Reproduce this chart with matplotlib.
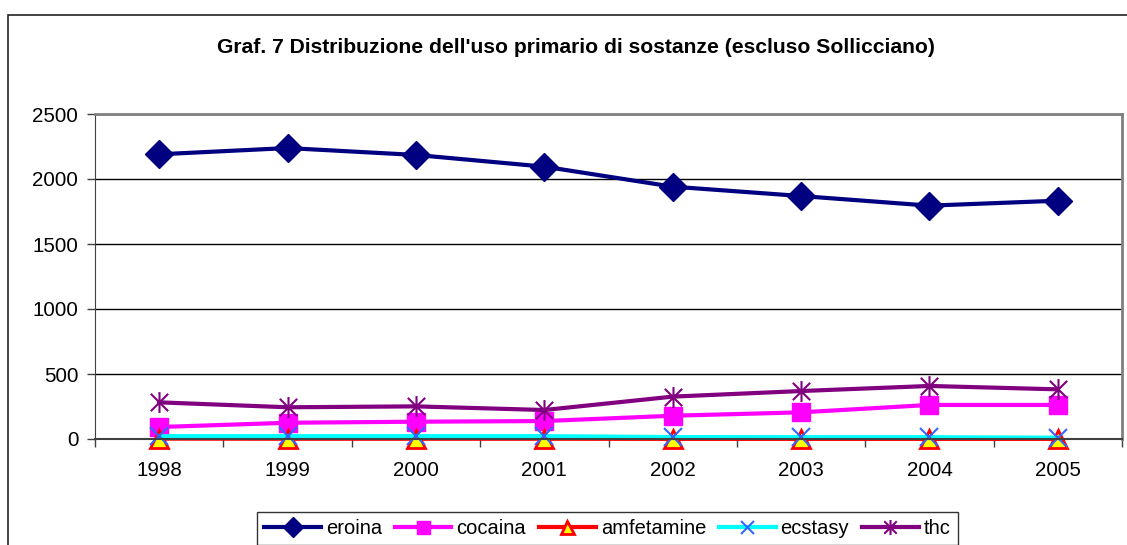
import matplotlib
matplotlib.use("Agg")
import matplotlib.pyplot as plt
from matplotlib.path import Path
from matplotlib.patches import Rectangle

plt.rcParams["font.family"] = ["Liberation Sans", "DejaVu Sans"]

# data
years = ["1998", "1999", "2000", "2001", "2002", "2003", "2004", "2005"]
eroina = [2190, 2238, 2185, 2095, 1941, 1869, 1795, 1833]
cocaina = [92, 125, 133, 138, 179, 205, 262, 262]
amfetamine = [3, 2, 2, 2, 1, 1, 1, 1]
ecstasy = [22, 22, 22, 22, 15, 14, 14, 10]
thc = [282, 244, 251, 223, 326, 369, 408, 382]

W, H = 1127, 545
fig = plt.figure(figsize=(W / 100, H / 100), dpi=100)
ax = fig.add_axes([95 / W, 1 - 439 / H, (1122 - 95) / W, (439 - 114) / H])

# excel style asterisk: x plus vertical bar
star = Path([(-1, -1), (1, 1), (-1, 1), (1, -1), (0, -1.2), (0, 1.2)],
            [Path.MOVETO, Path.LINETO, Path.MOVETO, Path.LINETO, Path.MOVETO, Path.LINETO])

x = [i + 0.5 for i in range(len(years))]
ax.plot(x, eroina, color="#000080", lw=3, marker="D", ms=14, mfc="#000080", mec="#000080",
        label="eroina", clip_on=False)
ax.plot(x, cocaina, color="#FF00FF", lw=3, marker="s", ms=13, mfc="#FF00FF", mec="#FF00FF",
        label="cocaina", clip_on=False)
ax.plot(x, amfetamine, color="#FF0000", lw=3, marker="^", ms=13, mfc="#FFFF00", mec="#FF0000", mew=2,
        label="amfetamine", clip_on=False)
ax.plot(x, ecstasy, color="#00FFFF", lw=3, marker="x", ms=13, mec="#3366FF", mew=1.5,
        label="ecstasy", clip_on=False)
ax.plot(x, thc, color="#800080", lw=3, marker=star, ms=15, mec="#800080", mew=1.5,
        label="thc", clip_on=False)

ax.set_xlim(0, 8)
ax.set_ylim(0, 2500)
ax.set_yticks([0, 500, 1000, 1500, 2000, 2500])
ax.set_xticks(range(9))
ax.set_xticklabels([])
ax.set_xticks(x, minor=True)
ax.set_xticklabels(years, minor=True)
ax.tick_params(axis="x", which="minor", length=0, pad=16, labelsize=14.8)
ax.tick_params(axis="x", which="major", length=6, width=1, color="#404040")
ax.tick_params(axis="y", length=6, width=1, color="#404040", labelsize=14.8, pad=6)
ax.grid(axis="y", color="black", lw=1)
ax.set_axisbelow(True)
for side in ["top", "right"]:
    ax.spines[side].set_color("#808080")
    ax.spines[side].set_linewidth(2)
ax.spines["left"].set_color("#404040")
ax.spines["bottom"].set_color("#404040")
ax.spines["bottom"].set_linewidth(1.5)

fig.text(576 / W, 1 - 47 / H, "Graf. 7 Distribuzione dell'uso primario di sostanze (escluso Sollicciano)",
         ha="center", va="center", fontsize=15.2, fontweight="bold")

fig.patches.append(Rectangle((8 / W, -0.1), 1.2, 1.1 - 15 / H, transform=fig.transFigure,
                             fill=False, ec="#222222", lw=1.2, clip_on=False))

leg = fig.legend(loc="upper center", bbox_to_anchor=(607.5 / W, 1 - 512 / H), ncol=5,
                 fontsize=14.5, frameon=True, fancybox=False, edgecolor="black",
                 handlelength=2.8, handletextpad=0.25, columnspacing=0.65, borderpad=0.35,
                 borderaxespad=0, markerscale=0.72)
leg.get_frame().set_linewidth(1)

fig.savefig("out.png", dpi=100)
